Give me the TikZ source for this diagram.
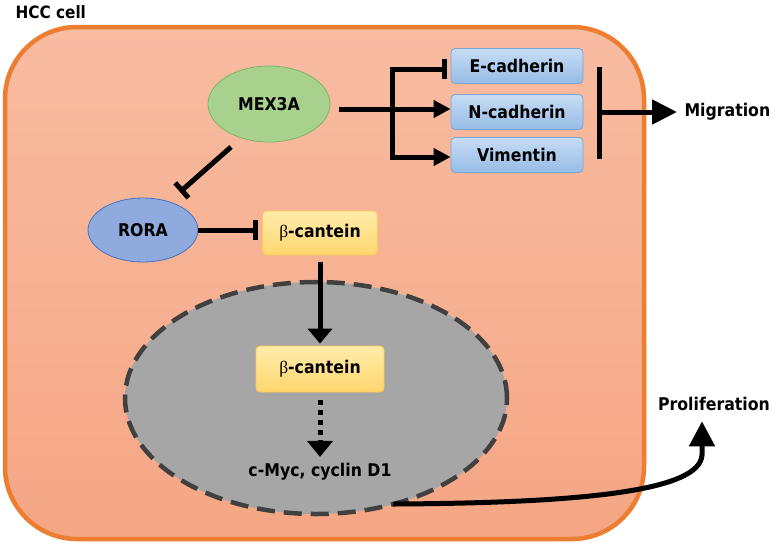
\documentclass[tikz,border=0pt]{standalone}
\usepackage{fontspec}
\setmainfont{DejaVu Sans Condensed}
\newfontfamily\greekfont{Liberation Serif}
\usetikzlibrary{arrows.meta,shapes.geometric,calc}
\definecolor{cellborder}{RGB}{237,125,49}
\definecolor{celltop}{RGB}{248,188,162}
\definecolor{cellbot}{RGB}{245,166,132}
\definecolor{mexfill}{RGB}{169,209,142}
\definecolor{mexdraw}{RGB}{130,180,100}
\definecolor{rorafill}{RGB}{143,170,220}
\definecolor{roradraw}{RGB}{68,114,196}
\definecolor{bluetop}{RGB}{198,220,244}
\definecolor{bluebot}{RGB}{150,188,230}
\definecolor{bluedraw}{RGB}{125,165,212}
\definecolor{yeltop}{RGB}{255,236,170}
\definecolor{yelbot}{RGB}{255,214,110}
\definecolor{yeldraw}{RGB}{250,200,80}
\definecolor{nucfill}{RGB}{166,166,166}
\definecolor{nucdraw}{RGB}{64,64,64}
\tikzset{
  lbl/.style={font=\bfseries\fontsize{17.5}{20}\selectfont},
  bluebox/.style={lbl, draw=bluedraw, line width=0.8pt, top color=bluetop, bottom color=bluebot, rounded corners=4pt, minimum width=132pt, minimum height=35pt},
  yelbox/.style={lbl, draw=yeldraw, line width=0.8pt, top color=yeltop, bottom color=yelbot, rounded corners=4pt},
  conn/.style={line width=5pt},
  act/.style={conn, -{Triangle[length=17pt,width=17pt]}},
  inh/.style={conn, -{Bar[width=20pt]}},
}
\newcommand{\bet}{{\greekfont\mdseries β}}
\begin{document}
\begin{tikzpicture}[x=1pt,y=-1pt]
\useasboundingbox (0,0) rectangle (773,547);
% cell
\draw[line width=4.5pt, draw=cellborder, top color=celltop, bottom color=cellbot, rounded corners=72pt] (5,27) rectangle (644,539);
\node[font=\bfseries\fontsize{17}{19}\selectfont, anchor=west] (hcc) at (12,12) {HCC cell};
% nucleus
\node[ellipse, fill=nucfill, draw=nucdraw, line width=4.5pt, dash pattern=on 18pt off 9pt, minimum width=382pt, minimum height=232pt] (nuc) at (316,398) {};
% nodes
\node[ellipse, lbl, fill=mexfill, draw=mexdraw, line width=0.8pt, minimum width=122pt, minimum height=76pt] (mex) at (269,104) {MEX3A};
\node[ellipse, lbl, fill=rorafill, draw=roradraw, line width=0.8pt, minimum width=110pt, minimum height=64pt] (rora) at (143,230) {RORA};
\node[bluebox] (ecad) at (517,66) {E-cadherin};
\node[bluebox] (ncad) at (517,112) {N-cadherin};
\node[bluebox] (vim) at (517,155) {Vimentin};
\node[yelbox, minimum width=115pt, minimum height=44pt] (bc1) at (320,233) {\bet-cantein};
\node[yelbox, minimum width=128pt, minimum height=46pt] (bc2) at (320,369) {\bet-cantein};
\node[lbl] (cmyc) at (320,472) {c-Myc, cyclin D1};
\node[lbl, anchor=west] (mig) at (681,112) {Migration};
\node[lbl] (prol) at (714,404) {Proliferation};
% MEX3A branch
\coordinate (br) at (392,109);
\coordinate (brtop) at (392,69);
\coordinate (brbot) at (392,157);
\draw[conn] ($(mex.east)+(9,5)$) -- (br);
\draw[conn, line cap=rect] (brtop) -- (brbot);
\draw[conn, -{Bar[width=20pt]}] (brtop) -- ($(ecad.west |- brtop)+(-4,0)$);
\draw[act] (br) -- (ncad.west |- br);
\draw[act] (brbot) -- (vim.west |- brbot);
% migration bar
\coordinate (mtop) at (599,67);
\coordinate (mbot) at (599,159);
\coordinate (mmid) at (599,112);
\draw[conn] (mtop) -- (mbot);
\draw[conn, -{Triangle[length=25pt,width=24pt]}] (mmid) -- ($(mig.west)+(-4,0)$);
% inhibitions
\draw[inh] ($(mex.center)+(-38,43)$) -- ($(rora.center)+(37,-38)$);
\draw[inh] (rora.east) -- ($(bc1.west)+(-4,-3)$);
% beta-catenin to nucleus
\draw[conn, -{Triangle[length=15pt,width=24pt]}] ($(bc1.south)+(0,7)$) -- ($(bc2.north)+(0,-2)$);
\draw[conn, dash pattern=on 5pt off 5pt, -{Triangle[length=16pt,width=25pt]}] ($(bc2.south)+(0,8)$) -- ($(cmyc.north)+(0,-3)$);
% proliferation
\coordinate (pstart) at (393,504);
\draw[conn, -{Triangle[length=25pt,width=25pt]}] (pstart) .. controls (590,503) and (700,490) .. (702,455) -- ($(prol.south)+(-12,7)$);
\end{tikzpicture}
\end{document}
